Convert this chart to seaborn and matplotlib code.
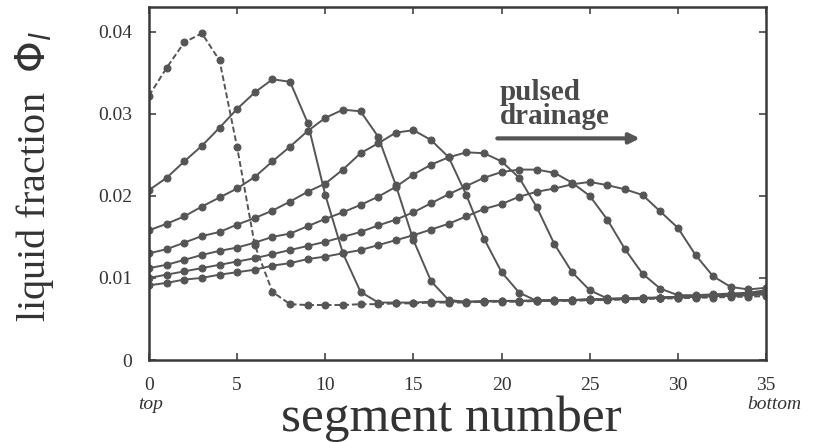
import matplotlib
matplotlib.use("Agg")
import matplotlib.pyplot as plt
import seaborn as sns
import numpy as np
import pandas as pd

segments = list(range(36))

pulse1 = [0.0322, 0.0356, 0.0387, 0.0398, 0.0365, 0.0259, 0.0140, 0.0083, 0.0068, 0.0067,
          0.0067, 0.0067, 0.0068, 0.0068, 0.0069, 0.0069, 0.0070, 0.0070, 0.0070, 0.0071,
          0.0071, 0.0071, 0.0072, 0.0072, 0.0072, 0.0073, 0.0073, 0.0074, 0.0074, 0.0075,
          0.0075, 0.0076, 0.0076, 0.0077, 0.0077, 0.0078]
pulse2 = [0.0207, 0.0222, 0.0242, 0.0261, 0.0283, 0.0306, 0.0326, 0.0342, 0.0339, 0.0289,
          0.0201, 0.0130, 0.0083, 0.0070, 0.0070, 0.0070, 0.0071, 0.0071, 0.0071, 0.0072,
          0.0072, 0.0072, 0.0073, 0.0073, 0.0073, 0.0074, 0.0074, 0.0075, 0.0075, 0.0076,
          0.0076, 0.0077, 0.0078, 0.0078, 0.0079, 0.0080]
pulse3 = [0.0158, 0.0166, 0.0175, 0.0187, 0.0198, 0.0209, 0.0223, 0.0242, 0.0260, 0.0279,
          0.0295, 0.0305, 0.0303, 0.0272, 0.0213, 0.0146, 0.0096, 0.0073, 0.0071, 0.0071,
          0.0072, 0.0072, 0.0072, 0.0073, 0.0073, 0.0074, 0.0074, 0.0075, 0.0075, 0.0076,
          0.0077, 0.0077, 0.0078, 0.0079, 0.0079, 0.0081]
pulse4 = [0.0130, 0.0135, 0.0143, 0.0151, 0.0156, 0.0165, 0.0173, 0.0182, 0.0193, 0.0205,
          0.0215, 0.0232, 0.0252, 0.0264, 0.0277, 0.0280, 0.0268, 0.0247, 0.0201, 0.0148,
          0.0107, 0.0082, 0.0072, 0.0072, 0.0073, 0.0073, 0.0074, 0.0074, 0.0075, 0.0076,
          0.0077, 0.0077, 0.0078, 0.0079, 0.0080, 0.0082]
pulse5 = [0.0112, 0.0116, 0.0122, 0.0128, 0.0133, 0.0137, 0.0143, 0.0150, 0.0154, 0.0163,
          0.0172, 0.0180, 0.0189, 0.0199, 0.0211, 0.0226, 0.0238, 0.0247, 0.0253, 0.0252,
          0.0242, 0.0222, 0.0186, 0.0141, 0.0107, 0.0085, 0.0075, 0.0075, 0.0076, 0.0076,
          0.0077, 0.0078, 0.0079, 0.0080, 0.0081, 0.0083]
pulse6 = [0.0100, 0.0104, 0.0108, 0.0112, 0.0116, 0.0120, 0.0124, 0.0129, 0.0134, 0.0139,
          0.0144, 0.0150, 0.0156, 0.0164, 0.0171, 0.0180, 0.0191, 0.0202, 0.0212, 0.0222,
          0.0229, 0.0232, 0.0232, 0.0228, 0.0216, 0.0200, 0.0171, 0.0135, 0.0105, 0.0087,
          0.0079, 0.0079, 0.0080, 0.0081, 0.0082, 0.0085]
pulse7 = [0.0091, 0.0094, 0.0098, 0.0100, 0.0104, 0.0107, 0.0110, 0.0115, 0.0118, 0.0123,
          0.0126, 0.0130, 0.0134, 0.0140, 0.0146, 0.0152, 0.0159, 0.0166, 0.0175, 0.0184,
          0.0190, 0.0199, 0.0205, 0.0209, 0.0214, 0.0217, 0.0213, 0.0208, 0.0201, 0.0181,
          0.0161, 0.0128, 0.0102, 0.0089, 0.0086, 0.0088]

pulses = [pulse1, pulse2, pulse3, pulse4, pulse5, pulse6, pulse7]
xticks = [0, 5, 10, 15, 20, 25, 30, 35]
yticks = [0, 0.01, 0.02, 0.03, 0.04]
ytick_labels = ["0", "0.01", "0.02", "0.03", "0.04"]

sns.set_theme(style="white")
plt.rcParams['font.family'] = ['Liberation Serif', 'DejaVu Serif']

fig = plt.figure(figsize=(8.17, 4.42), dpi=100)
ax = fig.add_axes([0.1824, 0.1855, 0.7552, 0.7985])

gray = "#555555"
for i, vals in enumerate(pulses):
    ls = (0, (3, 1.5)) if i == 0 else "-"
    sns.lineplot(x=segments, y=vals, ax=ax, color=gray, linewidth=1.4,
                 linestyle=ls, marker="o", markersize=5,
                 markeredgecolor=gray, markerfacecolor=gray)

ax.set_xlim(0, 35)
ax.set_ylim(0, 0.0430)
ax.set_xticks(xticks)
ax.set_xticklabels([str(t) for t in xticks])
ax.set_yticks(yticks)
ax.set_yticklabels(ytick_labels)
ax.tick_params(direction="in", length=5, width=1.2, colors="#444444",
               labelsize=14, top=True, right=True, bottom=True, left=True)
ax.tick_params(axis="y", pad=12, labelcolor="#333333")
ax.tick_params(axis="x", pad=12, labelcolor="#333333")
for sp in ax.spines.values():
    sp.set_color("#3a3a3a")
    sp.set_linewidth(1.8)

ax.set_xlabel("")
ax.set_ylabel("")
fig.text(0.553, 0.053, "segment number", ha="center", va="center",
         fontsize=37, color="#333333")
fig.text(0.042, 0.60, r"liquid fraction  $\Phi_{l}$", ha="center", va="center",
         rotation=90, fontsize=29, color="#333333")
fig.text(0.184, 0.084, "top", ha="center", va="center", style="italic",
         fontsize=14, color="#333333")
fig.text(0.948, 0.084, "bottom", ha="center", va="center", style="italic",
         fontsize=14, color="#333333")

ax.text(19.9, 0.0311, "pulsed\ndrainage", ha="left", va="center",
        fontsize=21, fontweight="bold", color="#4a4a4a", linespacing=0.85)
ax.annotate("", xy=(28.0, 0.0270), xytext=(19.6, 0.0270),
            arrowprops=dict(arrowstyle="-|>,head_length=0.5,head_width=0.25",
                            color="#555555", lw=3))

fig.savefig("out.png", dpi=100, facecolor="white")
